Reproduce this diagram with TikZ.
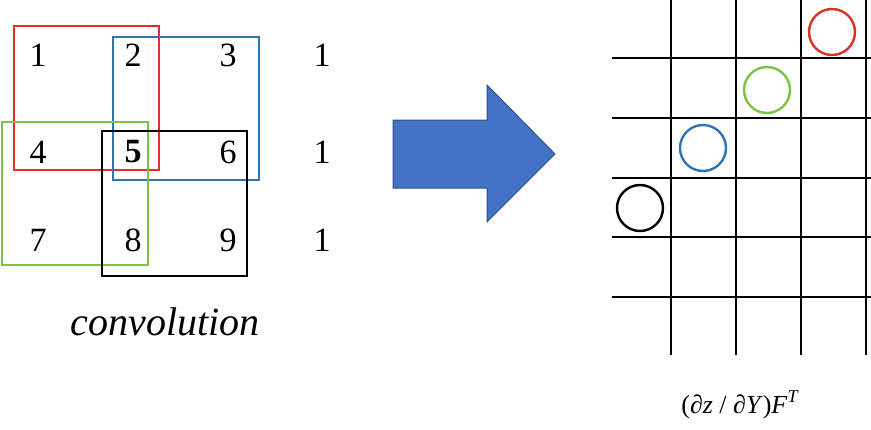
\documentclass[tikz,border=0pt]{standalone}
\usepackage{fontspec}
\setmainfont{Liberation Serif}
\definecolor{arrowblue}{HTML}{4472C4}
\definecolor{wred}{HTML}{E0302A}
\definecolor{wblue}{HTML}{2E75B6}
\definecolor{wgreen}{HTML}{7DC242}
\begin{document}
\begin{tikzpicture}[x=1pt,y=-1pt,
  num/.style={font=\fontsize{34}{38}\selectfont},
  win/.style={line width=2.4pt},
  gl/.style={line width=1.8pt,black},
  circ/.style={circle,minimum size=46pt,line width=2.4pt,draw}]
\useasboundingbox (0,0) rectangle (871,429);
\foreach \t/\x/\y [count=\i] in {1/38/55,2/133/55,3/228/55,1/322/55,4/38/152,\textbf{5}/133/152,6/228/152,1/322/152,7/38/240,8/133/240,9/228/240,1/322/240}
  \node[num] (n\i) at (\x,\y) {\t};
\draw[win,wred] (14,26) rectangle (159,170);
\draw[win,wblue] (113,37) rectangle (259,180);
\draw[win,wgreen] (2,122) rectangle (148,265);
\draw[win,black] (102,131) rectangle (247,276);
\node[font=\fontsize{40}{44}\selectfont\itshape] (conv) at (165,322) {convolution};
\draw[fill=arrowblue,draw=arrowblue!70!black,line width=1pt]
  (393,120) -- (487,120) -- (487,85) -- (555,154) -- (487,222) -- (487,188) -- (393,188) -- cycle;
\foreach \x in {671,736,801,866} \draw[gl] (\x,0) -- (\x,355);
\foreach \y in {58,118,178,237,297} \draw[gl] (612,\y) -- (871,\y);
\node[circ,draw=wred] (c1) at (832,32) {};
\node[circ,draw=wgreen] (c2) at (767,90) {};
\node[circ,draw=wblue] (c3) at (703,148) {};
\node[circ,draw=black] (c4) at (640,208) {};
\node[font=\fontsize{26}{30}\selectfont] (lab) at (740,405) {(∂\textit{z} / ∂\textit{Y})\textit{F}\raisebox{0.45em}{\fontsize{18}{20}\selectfont\textit{T}}};
\end{tikzpicture}
\end{document}
